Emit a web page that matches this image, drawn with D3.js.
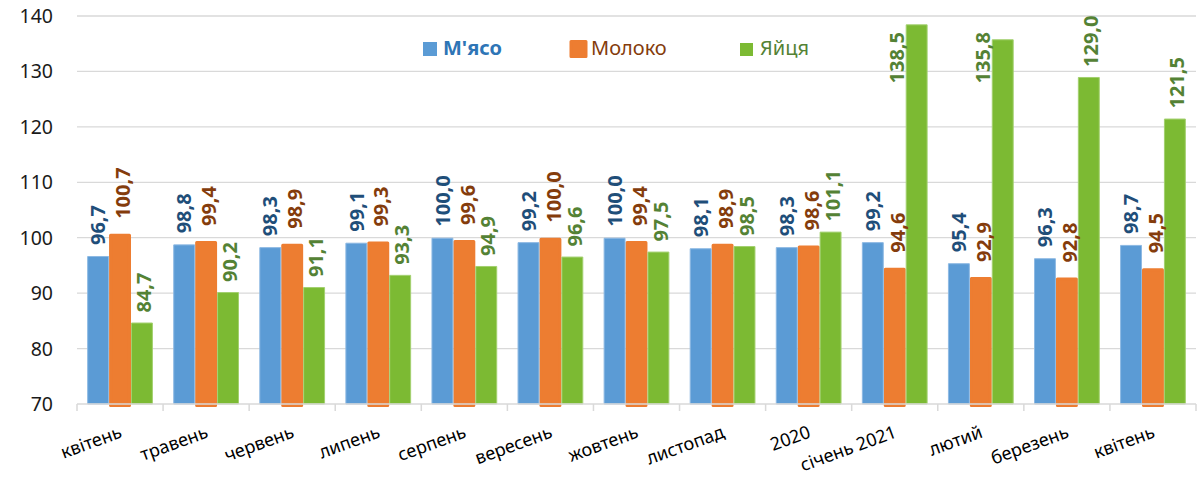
<!DOCTYPE html>
<html>
<head>
<meta charset="utf-8">
<script src="https://cdn.jsdelivr.net/npm/d3@7/dist/d3.min.js"></script>
<style>
  html, body { margin: 0; padding: 0; background: #fff; }
  svg { display: block; }
  text { font-family: "Noto Sans", "Open Sans", sans-serif; }
</style>
</head>
<body>
<svg id="chart" width="1202" height="479"></svg>
<script>
const categories = ["квітень", "травень", "червень", "липень", "серпень", "вересень", "жовтень", "листопад", "2020", "січень 2021", "лютий", "березень", "квітень"];
const seriesNames = ["М'ясо", "Молоко", "Яйця"];
const meat = [96.7, 98.8, 98.3, 99.1, 100.0, 99.2, 100.0, 98.1, 98.3, 99.2, 95.4, 96.3, 98.7];
const milk = [100.7, 99.4, 98.9, 99.3, 99.6, 100.0, 99.4, 98.9, 98.6, 94.6, 92.9, 92.8, 94.5];
const eggs = [84.7, 90.2, 91.1, 93.3, 94.9, 96.6, 97.5, 98.5, 101.1, 138.5, 135.8, 129.0, 121.5];
const yTicks = [70, 80, 90, 100, 110, 120, 130, 140];

const seriesValues = [meat, milk, eggs];
const styles = [
  { fill: "#5B9BD5", stroke: "#8DB9E3", sw: 1, label: "#1F4E79", off: 11, dx: 0 },
  { fill: "#ED7D31", stroke: "#ED7D31", sw: 3, label: "#843C0C", off: 15, dx: 3 },
  { fill: "#7CBA33", stroke: "#A3D06F", sw: 1, label: "#548235", off: 10, dx: 2 }
];

const svg = d3.select("#chart");
const pLeft = 77, pRight = 1196, pTop = 16, pBottom = 404;

const y = d3.scaleLinear().domain([70, 140]).range([pBottom, pTop]);
const x0 = d3.scaleBand().domain(d3.range(categories.length)).range([pLeft, pRight]).padding(0);
const bw = x0.bandwidth();
const x1 = d3.scaleBand().domain(d3.range(3)).range([bw * 0.118, bw * 0.882]).padding(0);

// gridlines
svg.append("g").selectAll("line").data(yTicks.filter(t => t > 70)).join("line")
  .attr("x1", pLeft).attr("x2", pRight)
  .attr("y1", d => y(d)).attr("y2", d => y(d))
  .attr("stroke", "#D9D9D9").attr("stroke-width", 1.3);

// y labels
svg.append("g").selectAll("text").data(yTicks).join("text")
  .attr("x", 53).attr("y", d => y(d)).attr("dy", "0.36em")
  .attr("text-anchor", "end").attr("font-size", 19.5).attr("fill", "#1a1a1a")
  .text(d => d);

// bars
const groups = svg.append("g").selectAll("g").data(d3.range(categories.length)).join("g")
  .attr("transform", i => `translate(${x0(i)},0)`);

[1, 0, 2].forEach(s => {
  groups.append("rect")
    .attr("x", i => x1(s) + (s === 1 ? 1.5 : 0.5))
    .attr("width", x1.bandwidth() - (s === 1 ? 3 : 1))
    .attr("y", i => y(seriesValues[s][i]) + (s === 1 ? 1.5 : 0.5))
    .attr("height", i => pBottom - y(seriesValues[s][i]) - (s === 1 ? 0 : 0.5))
    .attr("fill", styles[s].fill)
    .attr("stroke", styles[s].stroke)
    .attr("stroke-width", styles[s].sw)
    .attr("stroke-linejoin", "round");
});

// axis baseline and ticks
svg.append("line").attr("x1", pLeft).attr("x2", pRight).attr("y1", pBottom).attr("y2", pBottom)
  .attr("stroke", "#D9D9D9").attr("stroke-width", 1.5);
svg.append("g").selectAll("line").data(d3.range(categories.length + 1)).join("line")
  .attr("x1", i => pLeft + i * bw).attr("x2", i => pLeft + i * bw)
  .attr("y1", pBottom).attr("y2", pBottom + 7)
  .attr("stroke", "#D9D9D9").attr("stroke-width", 1.5);

// value labels
[0, 1, 2].forEach(s => {
  groups.append("text")
    .attr("dy", "0.36em")
    .attr("text-anchor", "start")
    .attr("font-size", 20).attr("font-weight", "bold")
    .attr("fill", styles[s].label)
    .text(i => d3.format(".1f")(seriesValues[s][i]).replace(".", ","))
    .each(function (i) {
      const len = this.getComputedTextLength();
      const yTop = y(seriesValues[s][i]);
      let cx = x1(s) + x1.bandwidth() / 2 + styles[s].dx;
      let yStart = yTop - styles[s].off;
      if (yStart - len < pTop - 4) {
        // not enough room above: place beside the bar, near the top
        cx = x1(s) - 9;
        yStart = 32 + len;
      }
      d3.select(this).attr("transform", `translate(${cx},${yStart}) rotate(-90)`);
    });
});

// category labels
svg.append("g").selectAll("text").data(d3.range(categories.length)).join("text")
  .attr("transform", i => `translate(${x0(i) + bw / 2 + 3},437) rotate(-20)`)
  .attr("text-anchor", "end").attr("font-size", 18).attr("fill", "#000")
  .text(i => categories[i]);

// legend
const leg = svg.append("g");
leg.append("rect").attr("x", 423).attr("y", 42).attr("width", 14).attr("height", 14).attr("fill", styles[0].fill);
leg.append("text").attr("x", 443).attr("y", 55).attr("font-size", 20).attr("font-weight", "bold")
  .attr("fill", "#2E75B6").text(seriesNames[0]);
leg.append("rect").attr("x", 571).attr("y", 41.5).attr("width", 15).attr("height", 15)
  .attr("fill", styles[1].fill).attr("stroke", styles[1].fill).attr("stroke-width", 3).attr("stroke-linejoin", "round");
leg.append("text").attr("x", 591).attr("y", 55).attr("font-size", 20)
  .attr("fill", "#843C0C").text(seriesNames[1]);
leg.append("rect").attr("x", 740).attr("y", 43).attr("width", 13).attr("height", 13).attr("fill", styles[2].fill);
leg.append("text").attr("x", 760).attr("y", 55).attr("font-size", 20)
  .attr("fill", "#548235").text(seriesNames[2]);
</script>
</body>
</html>
